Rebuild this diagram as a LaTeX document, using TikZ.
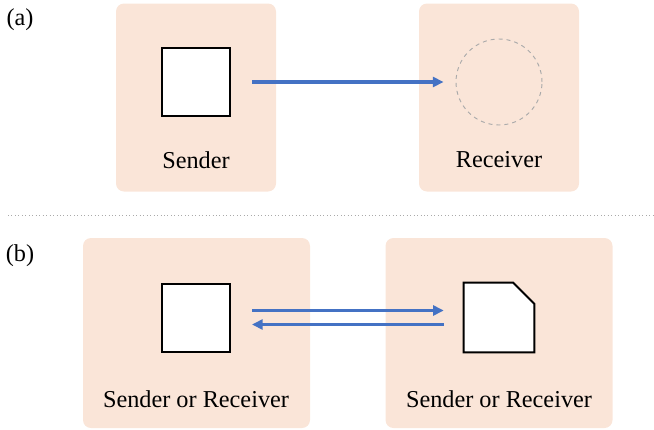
\documentclass[tikz,border=0pt]{standalone}
\usepackage{fontspec}
\IfFontExistsTF{LiberationSerif-Regular.ttf}
  {\newfontfamily\timeslike{LiberationSerif-Regular.ttf}}
  {\newfontfamily\timeslike{Latin Modern Roman}}
\usetikzlibrary{arrows.meta, positioning, calc}
\definecolor{panelpeach}{RGB}{250, 229, 216}
\definecolor{flowblue}{RGB}{68, 114, 196}
\definecolor{ghostgray}{RGB}{170, 170, 170}

\begin{document}
\begin{tikzpicture}[
    x=0.75pt, y=-0.75pt,
    panel/.style={fill=panelpeach, rounded corners=6pt, inner sep=0pt},
    msg/.style={draw=black, fill=white, line width=1.5pt, minimum size=51pt, inner sep=0pt},
    ghost/.style={circle, draw=ghostgray, dashed, line width=0.7pt, minimum size=64.5pt, inner sep=0pt},
    lbl/.style={font=\timeslike\fontsize{18.2}{22}\selectfont, inner sep=0pt},
    flow/.style={-{Triangle[length=8pt, width=7.5pt]}, draw=flowblue, line width=2.4pt}
]
    \useasboundingbox (0,0) rectangle (654,429);

    % (a) one-way
    \node[lbl] (taga) at (20,20) {(a)};
    \node[panel, minimum width=120pt, minimum height=141pt] (sendA) at (196,97.5) {};
    \node[panel, minimum width=120pt, minimum height=141pt] (recvA) at (499,97.5) {};
    \node[msg] (sqA) at (196,82) {};
    \node[ghost] (circA) at (499,82) {};
    \node[lbl] (txtSend) at (196,160) {Sender};
    \node[lbl] (txtRecv) at (499,160) {Receiver};

    \draw[flow] ([xshift=15.75pt]sqA.east) -- ([xshift=-9pt]circA.west);

    % Separator
    \draw[ghostgray, dotted, line width=0.6pt] (8,215) -- (654,215);

    % (b) two-way
    \node[lbl] (tagb) at (20,256) {(b)};
    \node[panel, minimum width=170.25pt, minimum height=142.5pt] (leftB) at (196.5,333) {};
    \node[panel, minimum width=170.25pt, minimum height=142.5pt] (rightB) at (499,333) {};
    \node[msg] (sqB) at (196,317.5) {};
    \node[minimum width=52.5pt, minimum height=51.75pt, inner sep=0pt] (docB) at (499,317.5) {};
    \draw[black, fill=white, line width=1.5pt]
        (docB.south west) -- (docB.north west) -- ([xshift=-15.75pt]docB.north east)
        -- ([yshift=-15.75pt]docB.north east) -- (docB.south east) -- cycle;
    \node[lbl] (txtLeft) at (196,399) {Sender or Receiver};
    \node[lbl] (txtRight) at (499,399) {Sender or Receiver};

    \draw[flow] ([xshift=15.75pt, yshift=5.25pt]sqB.east) -- ([xshift=-15pt, yshift=5.25pt]docB.west);
    \draw[flow] ([xshift=-15pt, yshift=-5.25pt]docB.west) -- ([xshift=15.75pt, yshift=-5.25pt]sqB.east);
\end{tikzpicture}
\end{document}
